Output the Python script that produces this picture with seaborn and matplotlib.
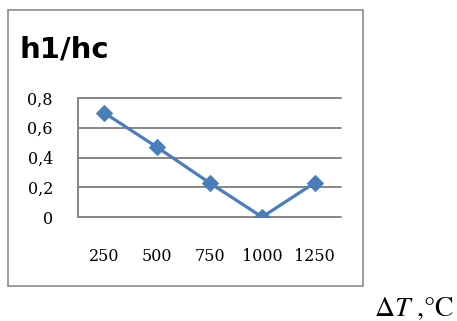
import matplotlib
matplotlib.use("Agg")
import matplotlib.pyplot as plt
import seaborn as sns
import pandas as pd
from matplotlib.patches import Rectangle

# data
delta_t = [250, 500, 750, 1000, 1250]
h_ratio = [0.70, 0.47, 0.23, 0.0, 0.23]
y_ticks = [0, 0.2, 0.4, 0.6, 0.8]
y_labels = ["0", "0,2", "0,4", "0,6", "0,8"]

df = pd.DataFrame({"dT": delta_t, "h": h_ratio})

sns.set_style("white")
plt.rcParams["mathtext.fontset"] = "stix"

W, H = 457, 321
fig = plt.figure(figsize=(W / 100, H / 100), dpi=100)
ax = fig.add_axes([78 / W, 1 - 217 / H, (341 - 78) / W, (217 - 98) / H])

grid_col = "#868686"
sns.lineplot(data=df, x="dT", y="h", ax=ax, color="#4a7ebb", linewidth=2.3,
             marker="D", markersize=8, markeredgecolor="#4a7ebb")

ax.set_xlim(125, 1375)
ax.set_ylim(0, 0.8)
ax.set_yticks(y_ticks)
ax.set_yticklabels(y_labels, fontfamily="DejaVu Serif", fontsize=11.5, color="black")
ax.set_xticks(delta_t)
ax.set_xticklabels([str(v) for v in delta_t], fontfamily="DejaVu Serif",
                   fontsize=11.5, color="black")
for y in y_ticks:
    ax.axhline(y, color=grid_col, lw=1.4, zorder=0, clip_on=False)
ax.tick_params(axis="y", length=6, width=1.4, color=grid_col, pad=12)
ax.tick_params(axis="x", length=0, pad=22)
for s in ["top", "right", "bottom"]:
    ax.spines[s].set_visible(False)
ax.spines["left"].set_color(grid_col)
ax.spines["left"].set_linewidth(1.4)
ax.set_xlabel("")
ax.set_ylabel("")

# outer chart frame
fig.patches.append(Rectangle((8 / W, 1 - 286 / H), (363 - 8) / W, (286 - 10) / H,
                             transform=fig.transFigure, fill=False,
                             edgecolor="#8c8c8c", lw=1.2))

fig.text(20 / W, 1 - 58 / H, "h1/hc", fontsize=21, fontweight="bold",
         fontfamily="DejaVu Sans", va="baseline", ha="left", color="black")
fig.text(374 / W, 1 - 316 / H, r"$\Delta T$ ,°C", fontsize=20,
         fontfamily="STIXGeneral", va="baseline", ha="left", color="black")

fig.savefig("out.png", dpi=100)
